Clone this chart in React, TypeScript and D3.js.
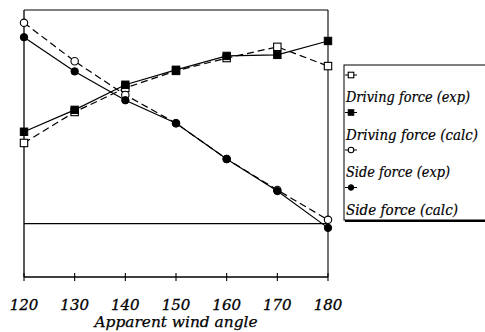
import React from "react";
import * as d3 from "d3";

const angles = [120, 130, 140, 150, 160, 170, 180];
const drivingExp = [1.51, 2.09, 2.54, 2.86, 3.1, 3.31, 2.95];
const drivingCalc = [1.72, 2.13, 2.6, 2.88, 3.14, 3.16, 3.42];
const sideExp = [3.76, 3.04, 2.41, 1.88, 1.21, 0.63, 0.07];
const sideCalc = [3.49, 2.85, 2.31, 1.88, 1.21, 0.61, -0.08];
const xTicks = [120, 130, 140, 150, 160, 170, 180];
const legendLabels = ["Driving force (exp)", "Driving force (calc)", "Side force (exp)", "Side force (calc)"];
const legendWidths = [124, 132, 104, 112];

type Marker = "openSquare" | "filledSquare" | "openCircle" | "filledCircle";
const seriesList: { values: number[]; marker: Marker; dashed: boolean }[] = [
  { values: drivingExp, marker: "openSquare", dashed: true },
  { values: drivingCalc, marker: "filledSquare", dashed: false },
  { values: sideExp, marker: "openCircle", dashed: true },
  { values: sideCalc, marker: "filledCircle", dashed: false },
];

const W = 485;
const H = 332;
const L = 24, R = 328, T = 10, B = 277;
const FONT = "'DejaVu Serif', serif";

function MarkerShape({ type, x, y, s = 1 }: { type: Marker; x: number; y: number; s?: number }) {
  const h = 3.7 * s;
  if (type === "openSquare")
    return <rect x={x - h} y={y - h} width={2 * h} height={2 * h} fill="#fff" stroke="#000" strokeWidth={1.1} />;
  if (type === "filledSquare")
    return <rect x={x - h} y={y - h} width={2 * h} height={2 * h} fill="#000" stroke="#000" strokeWidth={1} />;
  if (type === "openCircle")
    return <circle cx={x} cy={y} r={h} fill="#fff" stroke="#000" strokeWidth={1.1} />;
  return <circle cx={x} cy={y} r={h} fill="#000" stroke="#000" strokeWidth={1} />;
}

export default function App() {
  const x = d3.scaleLinear().domain([120, 180]).range([L, R]);
  const y = d3.scaleLinear().domain([-1, 4]).range([B, T]);
  const line = d3
    .line<number>()
    .x((_, i) => x(angles[i]))
    .y((d) => y(d));

  return (
    <svg width={W} height={H} style={{ position: "absolute", left: 0, top: 0, background: "#fff" }}>
      <rect x={0} y={0} width={W} height={H} fill="#fff" />
      {/* frame */}
      <line x1={L} x2={R} y1={T} y2={T} stroke="#000" strokeWidth={1} />
      <line x1={L} x2={L} y1={T} y2={B} stroke="#000" strokeWidth={1.3} />
      <line x1={R} x2={R} y1={T} y2={B} stroke="#000" strokeWidth={1.1} />
      <line x1={L} x2={R} y1={B} y2={B} stroke="#000" strokeWidth={1.3} />
      <line x1={L} x2={R} y1={y(0)} y2={y(0)} stroke="#000" strokeWidth={1.1} />
      {xTicks.map((t) => (
        <g key={t}>
          <line x1={x(t)} x2={x(t)} y1={B - 4} y2={B + 4} stroke="#000" strokeWidth={1.1} />
          <text
            x={x(t)}
            y={310}
            textAnchor="middle"
            fontFamily={FONT}
            fontStyle="italic"
            fontSize={15}
            fill="#000"
            stroke="#000"
            strokeWidth={0.3}
          >
            {t}
          </text>
        </g>
      ))}
      <text
        x={176}
        y={327}
        textAnchor="middle"
        fontFamily={FONT}
        fontStyle="italic"
        fontSize={15}
        fill="#000"
        stroke="#000"
        strokeWidth={0.25}
        textLength={163}
        lengthAdjust="spacingAndGlyphs"
      >
        Apparent wind angle
      </text>
      {seriesList.map((s, si) => (
        <g key={si}>
          <path
            d={line(s.values) || ""}
            fill="none"
            stroke="#000"
            strokeWidth={1.2}
            strokeDasharray={s.dashed ? "7,4" : undefined}
          />
          {s.values.map((v, i) => (
            <MarkerShape key={i} type={s.marker} x={x(angles[i])} y={y(v)} />
          ))}
        </g>
      ))}
      {/* legend */}
      <rect x={344} y={65} width={150} height={155} fill="#fff" stroke="#000" strokeWidth={1} />
      <line x1={345} x2={490} y1={221} y2={221} stroke="#000" strokeWidth={2} />
      {seriesList.map((s, i) => {
        const ly = 75 + i * 37.5;
        return (
          <g key={i}>
            <line x1={345} x2={357} y1={ly} y2={ly} stroke="#000" strokeWidth={1} />
            <MarkerShape type={s.marker} x={351} y={ly} s={0.75} />
            <text
              x={346}
              y={ly + 27}
              fontFamily={FONT}
              fontStyle="italic"
              fontSize={14}
              fill="#000"
              stroke="#000"
              strokeWidth={0.2}
              textLength={legendWidths[i]}
              lengthAdjust="spacingAndGlyphs"
            >
              {legendLabels[i]}
            </text>
          </g>
        );
      })}
    </svg>
  );
}
